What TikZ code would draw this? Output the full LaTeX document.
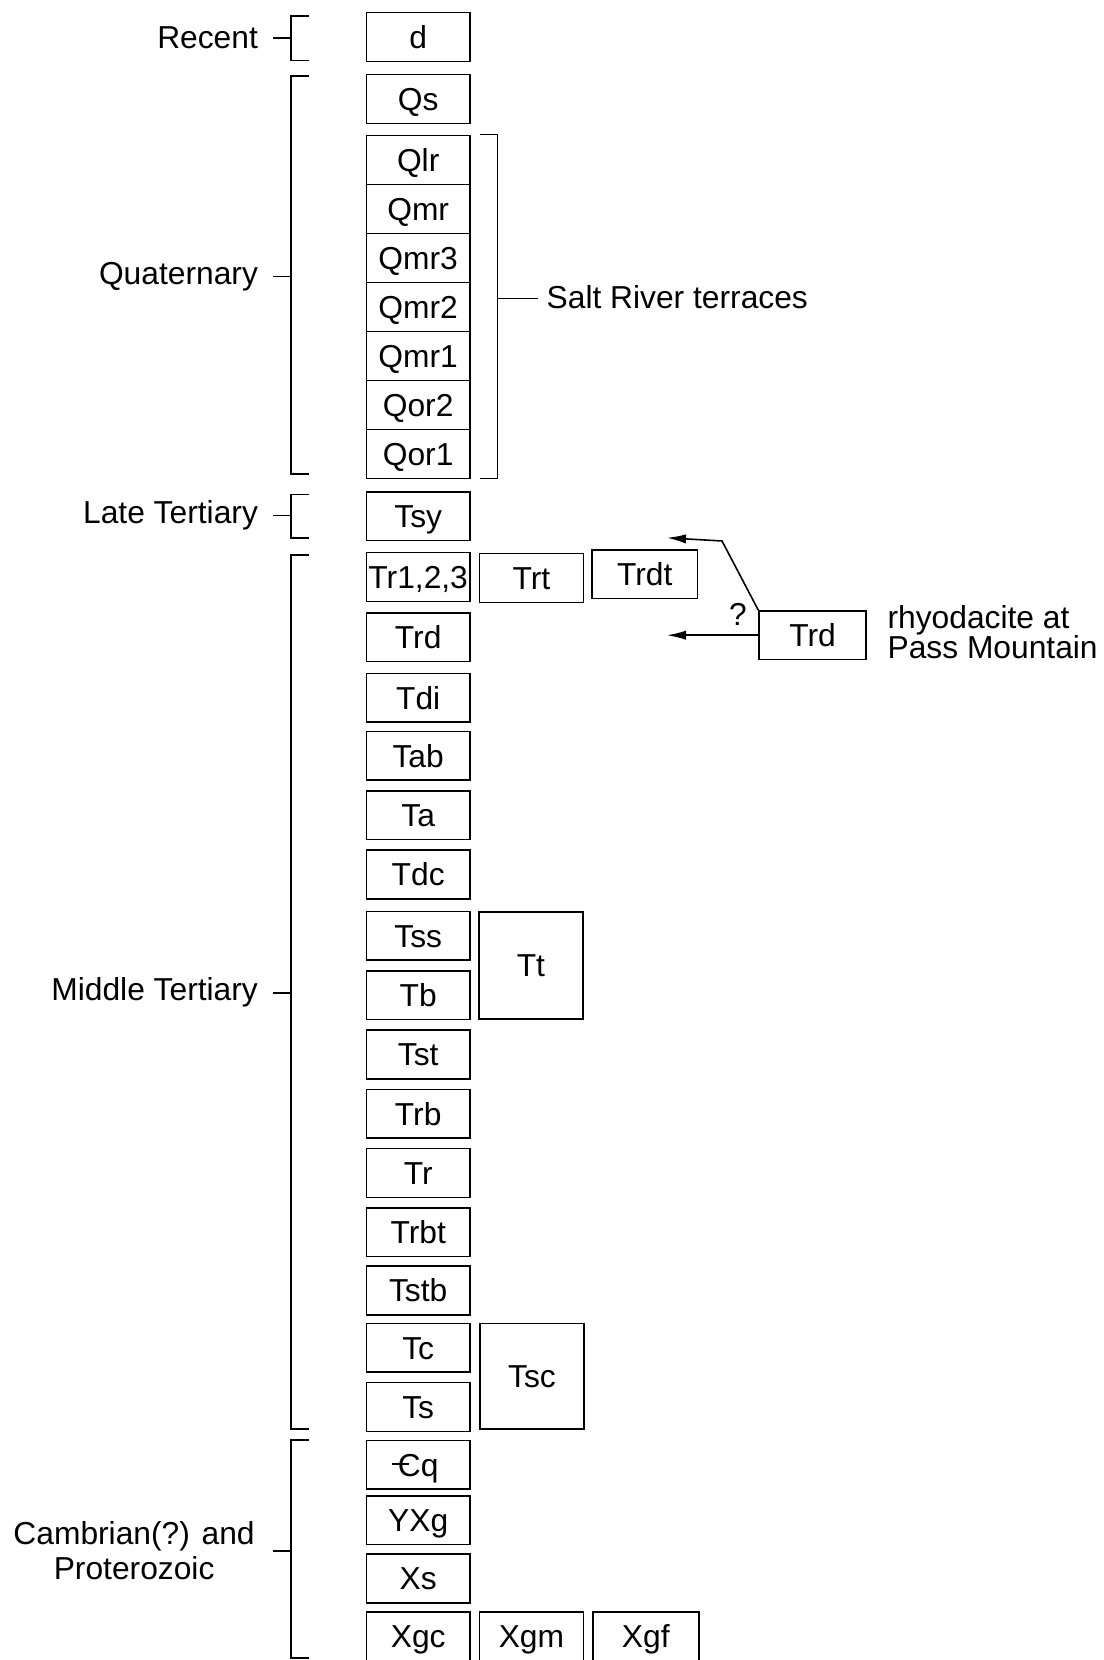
\documentclass[tikz,border=0pt]{standalone}
\usepackage{fontspec}
\setmainfont{Liberation Sans}
\usetikzlibrary{arrows.meta}
\begin{document}
\begin{tikzpicture}[x=0.5pt,y=-0.5pt,
  bx/.style={draw,line width=0.75pt,minimum width=49pt,minimum height=23pt,inner sep=0pt,
    text height=10.7pt,text depth=0pt,font=\fontsize{15}{18}\selectfont},
  lbl/.style={font=\fontsize{15}{16.5}\selectfont,inner sep=0pt},
  brk/.style={line width=0.75pt},
  arr/.style={line width=0.75pt,-{Latex[length=9pt,width=4.4pt]}}]
\useasboundingbox (0,0) rectangle (1042,1568);
% ---- main column ----
\node[bx] (d) at (395,35) {d};
\node[bx] (Qs) at (395,93.5) {Qs};
\node[bx,minimum height=23.15pt] (Qlr) at (395,151.1) {Qlr};
\node[bx,minimum height=23.15pt] (Qmr) at (395,197.4) {Qmr};
\node[bx,minimum height=23.15pt] (Qmr3) at (395,243.7) {Qmr3};
\node[bx,minimum height=23.15pt] (Qmr2) at (395,290) {Qmr2};
\node[bx,minimum height=23.15pt] (Qmr1) at (395,336.3) {Qmr1};
\node[bx,minimum height=23.15pt] (Qor2) at (395,382.6) {Qor2};
\node[bx,minimum height=23.15pt] (Qor1) at (395,428.9) {Qor1};
\node[bx] (Tsy) at (395,487.5) {Tsy};
\node[bx] (Tr123) at (395,545) {Tr1,2,3};
\node[bx] (Trd) at (395,602) {Trd};
\node[bx] (Tdi) at (395,659) {Tdi};
\node[bx] (Tab) at (395,714) {Tab};
\node[bx] (Ta) at (395,770) {Ta};
\node[bx] (Tdc) at (395,826) {Tdc};
\node[bx] (Tss) at (395,884) {Tss};
\node[bx] (Tb) at (395,940) {Tb};
\node[bx] (Tst) at (395,996) {Tst};
\node[bx] (Trb) at (395,1052) {Trb};
\node[bx] (Tr) at (395,1108) {Tr};
\node[bx] (Trbt) at (395,1164) {Trbt};
\node[bx] (Tstb) at (395,1219) {Tstb};
\node[bx] (Tc) at (395,1273) {Tc};
\node[bx] (Ts) at (395,1329) {Ts};
\node[bx] (Cq) at (395,1383.5) {\makebox[0pt][l]{\hspace{-0.2em}\rule[0.34em]{0.55em}{0.075em}}Cq};
\node[bx] (YXg) at (395,1436) {YXg};
\node[bx] (Xs) at (395,1491) {Xs};
\node[bx] (Xgc) at (395,1545.5) {Xgc};
% ---- side boxes ----
\node[bx] (Trt) at (502,546) {Trt};
\node[bx,minimum width=50pt] (Trdt) at (609,542.5) {Trdt};
\node[bx,minimum height=50.5pt] (Tt) at (501.5,912) {Tt};
\node[bx,minimum height=50pt] (Tsc) at (502.5,1300) {Tsc};
\node[bx] (Xgm) at (502,1545.5) {Xgm};
\node[bx,minimum width=50pt] (Xgf) at (610,1545.5) {Xgf};
\node[bx,minimum width=50.5pt] (TrdR) at (767.5,600) {Trd};
% ---- labels ----
\node[lbl,anchor=east] (Lrec) at (244,36) {Recent};
\node[lbl,anchor=east] (Lqua) at (244,261) {Quaternary};
\node[lbl,anchor=east] (Llt) at (244,487) {Late Tertiary};
\node[lbl,anchor=east] (Lmt) at (244,937) {Middle Tertiary};
\node[lbl,anchor=east,align=center] (Lcam) at (241,1465) {Cambrian(?) and\\Proterozoic};
\node[lbl,anchor=west] (Lsalt) at (516,281) {Salt River terraces};
\node[lbl,anchor=west,align=left,font=\fontsize{15}{14.5}\selectfont] (Lrhy) at (838,597) {rhyodacite at\\Pass Mountain};
\node[lbl] (Lq) at (697,580) {?};
% ---- brackets ----
\draw[brk] (292,15) -- (275,15) -- (275,57) -- (292,57);
\draw[brk] (258,36) -- (275,36);
\draw[brk] (292,72) -- (275,72) -- (275,448) -- (292,448);
\draw[brk] (258,261) -- (275,261);
\draw[brk] (292,467) -- (275,467) -- (275,508) -- (292,508);
\draw[brk] (258,487) -- (275,487);
\draw[brk] (292,524) -- (275,524) -- (275,1350) -- (292,1350);
\draw[brk] (258,938) -- (275,938);
\draw[brk] (292,1360) -- (275,1360) -- (275,1566) -- (292,1566);
\draw[brk] (258,1465) -- (275,1465);
% Salt River bracket
\draw[brk] (453,127) -- (470,127) -- (470,452) -- (453,452);
\coordinate (saltEnd) at (508,282);
\draw[brk] (470,282) -- (saltEnd);
% ---- arrows ----
\coordinate (tipLow) at (630,600);
\coordinate (bend) at (682,511);
\coordinate (tipUp) at (630,508);
\draw[arr] (TrdR.west) -- (tipLow);
\draw[arr] (TrdR.north west) -- (bend) -- (tipUp);
\end{tikzpicture}
\end{document}
